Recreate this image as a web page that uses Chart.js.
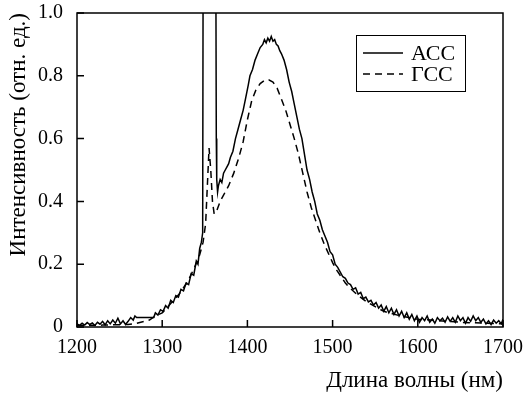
<!DOCTYPE html>
<html>
<head>
<meta charset="utf-8">
<script src="https://cdn.jsdelivr.net/npm/chart.js@4/dist/chart.umd.min.js"></script>
<style>
  html, body { margin: 0; padding: 0; background: #fff; }
  #wrap { width: 523px; height: 394px; }
</style>
</head>
<body>
<div id="wrap"><canvas id="myChart" width="523" height="394"></canvas></div>
<script>
// АСС spectrum (solid) - wavelength in nm, intensity in rel. units
const accX = [1200,1203,1206,1209,1212,1215,1218,1221,1224,1227,1230,1233,1236,1239,1242,1245,1248,1251,1254,1257,1260,1263,1266,1268,1270,1280,1290,
  1292,1295,1298,1301,1304,1307,1310,1313,1316,1319,1322,1325,1328,1331,1334,1337,1340,1342,1344,1346,1347.5,1348,
  1363,1363.5,1364,1365,1366,1368,1370,1372,1374,1376,1378,1380,1383,1386,1389,1392,1395,1398,1401,1403,1406,1409,1412,1415,1418,
  1420,1422,1424,1426,1428,1430,1432,1434,1436,1438,1440,1443,1446,1449,1452,1455,1458,1461,1464,1467,1470,1473,1476,1479,1482,
  1485,1488,1491,1494,1497,1500,1503,1506,1509,1512,1515,1518,1521,1524,1527,1530,1533,1536,1539,1542,1545,1548,1551,1554,1557,
  1560,1563,1566,1569,1572,1575,1578,1581,1584,1587,1590,1593,1596,1599,1602,1605,1608,1611,1614,1617,1620,1623,1626,1629,1632,
  1635,1638,1641,1644,1647,1650,1653,1656,1659,1662,1665,1668,1671,1674,1677,1680,1683,1686,1689,1692,1695,1698,1700];
const accY = [0.010,0.005,0.012,0.006,0.014,0.008,0.013,0.005,0.015,0.009,0.018,0.007,0.020,0.010,0.022,0.012,0.028,0.010,0.020,0.008,0.018,0.030,0.022,0.035,0.030,0.030,0.030,
  0.045,0.038,0.055,0.050,0.068,0.060,0.085,0.078,0.100,0.095,0.120,0.115,0.140,0.135,0.170,0.165,0.210,0.200,0.250,0.270,0.300,1.100,
  1.100,0.600,0.470,0.430,0.450,0.470,0.460,0.490,0.500,0.510,0.520,0.540,0.560,0.600,0.630,0.660,0.690,0.730,0.770,0.800,0.820,0.850,0.870,0.890,0.900,
  0.915,0.905,0.920,0.910,0.925,0.910,0.915,0.900,0.895,0.880,0.870,0.850,0.820,0.780,0.750,0.710,0.670,0.630,0.600,0.550,0.500,0.470,0.430,0.400,0.360,
  0.340,0.310,0.290,0.270,0.240,0.230,0.200,0.190,0.175,0.160,0.155,0.140,0.135,0.120,0.125,0.105,0.110,0.090,0.095,0.080,0.085,0.070,0.078,0.060,0.070,
  0.050,0.065,0.045,0.060,0.040,0.055,0.035,0.050,0.030,0.045,0.025,0.040,0.020,0.035,0.015,0.030,0.020,0.035,0.015,0.025,0.012,0.030,0.020,0.028,0.015,
  0.032,0.018,0.030,0.015,0.035,0.020,0.030,0.012,0.030,0.018,0.035,0.020,0.030,0.015,0.025,0.010,0.020,0.008,0.022,0.012,0.020,0.010,0.025];

// ГСС spectrum (dashed)
const gccX = [1200,1230,1260,1270,1285,1292,1300,1310,1320,1330,1338,1344,1348,1351,1353,1355,1357,1359,1361,1364,1368,1372,1378,1384,1390,1395,
  1400,1405,1410,1415,1420,1425,1430,1435,1440,1445,1450,1455,1460,1465,1470,1475,1480,1485,1490,1495,1500,1505,1510,1515,1520,1530,
  1540,1550,1560,1580,1600,1650,1700];
const gccY = [0.005,0.006,0.008,0.012,0.022,0.035,0.045,0.075,0.105,0.145,0.190,0.230,0.270,0.330,0.450,0.570,0.500,0.400,0.360,0.370,0.400,0.420,0.450,0.490,0.540,0.590,
  0.660,0.720,0.755,0.775,0.785,0.787,0.780,0.760,0.725,0.690,0.645,0.600,0.550,0.490,0.430,0.380,0.340,0.300,0.265,0.235,0.205,0.180,0.160,0.140,0.125,0.100,
  0.080,0.065,0.050,0.035,0.025,0.015,0.010];

const seriesLabels = ['АСС', 'ГСС'];
const xTicks = [1200, 1300, 1400, 1500, 1600, 1700];
const yTicks = [0, 0.2, 0.4, 0.6, 0.8, 1.0];

const serif = "'Liberation Serif', 'Times New Roman', serif";

// frame, inward ticks and the boxed legend
const framePlugin = {
    id: 'frame',
    afterDraw(chart) {
        const ctx = chart.ctx;
        const a = chart.chartArea;
        const xs = chart.scales.x, ys = chart.scales.y;
        ctx.save();
        ctx.strokeStyle = '#000';
        ctx.lineWidth = 1.5;
        ctx.strokeRect(a.left, a.top, a.right - a.left, a.bottom - a.top);
        ctx.beginPath();
        xTicks.forEach(v => {
            const px = xs.getPixelForValue(v);
            ctx.moveTo(px, a.bottom);
            ctx.lineTo(px, a.bottom - 7);
        });
        yTicks.forEach(v => {
            const py = ys.getPixelForValue(v);
            ctx.moveTo(a.left, py);
            ctx.lineTo(a.left + 7, py);
        });
        ctx.stroke();

        // legend
        const lx = 356, ly = 35, lw = 109, lh = 56;
        ctx.fillStyle = '#fff';
        ctx.fillRect(lx, ly, lw, lh);
        ctx.lineWidth = 1;
        ctx.strokeRect(lx + 0.5, ly + 0.5, lw, lh);
        ctx.font = '22px ' + serif;
        ctx.textBaseline = 'middle';
        ctx.fillStyle = '#000';
        chart.data.datasets.forEach((ds, i) => {
            const y = ly + 18 + i * 21;
            ctx.lineWidth = 1.5;
            ctx.setLineDash(ds.borderDash || []);
            ctx.beginPath();
            ctx.moveTo(lx + 7, y);
            ctx.lineTo(lx + 47, y);
            ctx.stroke();
            ctx.setLineDash([]);
            ctx.fillText(ds.label, lx + 55, y + 1);
        });
        ctx.restore();
    }
};

const ctx = document.getElementById('myChart').getContext('2d');
const myChart = new Chart(ctx, {
    type: 'line',
    data: {
        datasets: [{
            label: seriesLabels[0],
            data: accX.map((x, i) => ({ x: x, y: accY[i] })),
            borderColor: '#000',
            borderWidth: 1.5,
            pointRadius: 0,
            fill: false,
            tension: 0
        }, {
            label: seriesLabels[1],
            data: gccX.map((x, i) => ({ x: x, y: gccY[i] })),
            borderColor: '#000',
            borderWidth: 1.5,
            borderDash: [7, 5],
            pointRadius: 0,
            fill: false,
            tension: 0
        }]
    },
    options: {
        responsive: false,
        animation: false,
        layout: { padding: { top: 13, right: 20, left: 0, bottom: 0 } },
        plugins: {
            legend: { display: false },
            tooltip: { enabled: false }
        },
        scales: {
            x: {
                type: 'linear',
                min: 1200,
                max: 1700,
                afterFit(scale) {
                    scale.height = 67;
                    scale.paddingLeft = 0;
                    scale.paddingRight = 0;
                },
                afterBuildTicks(scale) { scale.ticks = xTicks.map(v => ({ value: v })); },
                grid: { display: false, drawTicks: false },
                border: { display: false },
                ticks: {
                    color: '#000',
                    padding: 9,
                    maxRotation: 0,
                    font: { family: serif, size: 20 },
                    callback: v => String(v)
                },
                title: {
                    display: true,
                    text: 'Длина волны (нм)',
                    align: 'end',
                    color: '#000',
                    font: { family: serif, size: 23, lineHeight: 1 },
                    padding: { top: 0, bottom: 2 }
                }
            },
            y: {
                min: 0,
                max: 1,
                afterFit(scale) {
                    scale.width = 77;
                    scale.paddingTop = 0;
                    scale.paddingBottom = 0;
                },
                afterBuildTicks(scale) { scale.ticks = yTicks.map(v => ({ value: v })); },
                grid: { display: false, drawTicks: false },
                border: { display: false },
                ticks: {
                    color: '#000',
                    padding: 14,
                    font: { family: serif, size: 20 },
                    callback: v => v === 0 ? '0' : v.toFixed(1)
                },
                title: {
                    display: true,
                    text: 'Интенсивность (отн. ед.)',
                    align: 'end',
                    color: '#000',
                    font: { family: serif, size: 23, lineHeight: 1 },
                    padding: { top: 7, bottom: 0 }
                }
            }
        }
    },
    plugins: [framePlugin]
});
</script>
</body>
</html>
